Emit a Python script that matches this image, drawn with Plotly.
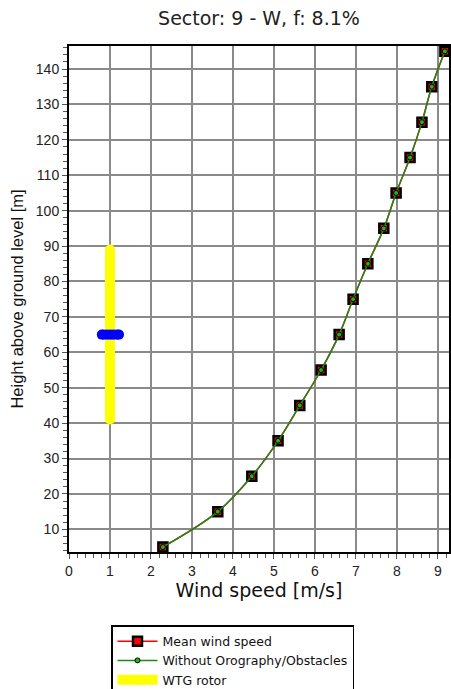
import plotly.graph_objects as go

heights = [5, 15, 25, 35, 45, 55, 65, 75, 85, 95, 105, 115, 125, 135, 145]
mean_ws = [2.29, 3.63, 4.46, 5.10, 5.63, 6.15, 6.59, 6.93, 7.29, 7.68, 7.98, 8.32, 8.61, 8.85, 9.17]
no_oro_ws = [2.29, 3.63, 4.46, 5.10, 5.63, 6.15, 6.59, 6.93, 7.29, 7.68, 7.98, 8.32, 8.61, 8.85, 9.17]
rotor_x = [1.0, 1.0]
rotor_y = [41, 89]
hub_x = [0.8, 1.22]
hub_y = [65, 65]

font = "Liberation Sans, Arial, sans-serif"
wide = "DejaVu Sans, sans-serif"

fig = go.Figure()
fig.add_trace(go.Scatter(x=mean_ws, y=heights, mode="lines+markers", name="Mean wind speed",
                         line=dict(color="red", width=1.5, shape="spline"),
                         marker=dict(symbol="square", size=9, color="red", line=dict(color="black", width=2.5))))
fig.add_trace(go.Scatter(x=no_oro_ws, y=heights, mode="lines+markers", name="Without Orography/Obstacles",
                         line=dict(color="#1a8a1a", width=1.5, shape="spline"),
                         marker=dict(symbol="circle", size=5, color="#11bb11", line=dict(color="black", width=1))))
fig.add_trace(go.Scatter(x=rotor_x, y=rotor_y, mode="lines+markers", name="WTG rotor",
                         line=dict(color="#ffff00", width=10),
                         marker=dict(symbol="circle", size=10, color="#ffff00")))
fig.add_trace(go.Scatter(x=hub_x, y=hub_y, mode="lines+markers", showlegend=False,
                         line=dict(color="#0000ff", width=10),
                         marker=dict(symbol="circle", size=10, color="#0000ff")))

axis_common = dict(showgrid=True, gridcolor="#8a8a8a", gridwidth=2, showline=True, linecolor="black",
                   linewidth=2, mirror=True, ticks="outside", ticklen=5, tickcolor="#555555",
                   tickfont=dict(family=font, size=14, color="#222"), zeroline=False, automargin=False)

fig.update_layout(
    width=451, height=689,
    paper_bgcolor="white", plot_bgcolor="white",
    margin=dict(l=69, r=2, t=46, b=137, autoexpand=False),
    title=dict(text="Sector: 9 - W, f: 8.1%", x=0.5, xanchor="center", xref="paper",
               y=1 - 18 / 689, yanchor="middle", yref="container",
               font=dict(family=wide, size=19, color="#222")),
    xaxis=dict(range=[0, 9.27], dtick=1, tick0=0,
               title=dict(text="Wind speed [m/s]", font=dict(family=wide, size=19, color="#111"), standoff=6),
               minor=dict(ticks="outside", dtick=0.2, ticklen=4, tickcolor="#555555", showgrid=False),
               **axis_common),
    yaxis=dict(range=[3.6, 146.5], dtick=10, tick0=0,
               title=dict(text="Height above ground level [m]", font=dict(family=font, size=16.5, color="#111"), standoff=8),
               minor=dict(ticks="outside", dtick=2, ticklen=4, tickcolor="#555555", showgrid=False),
               **axis_common),
    legend=dict(x=(111 - 69) / 380, y=-(625 - 552) / 506, xanchor="left", yanchor="top",
                bordercolor="black", borderwidth=1.5,
                font=dict(family=wide, size=12.5, color="#111"), bgcolor="white",
                tracegroupgap=0, itemwidth=40),
)

fig.write_html("out.html", config={"displayModeBar": False})
with open("out.html", "r", encoding="utf-8") as f:
    html = f.read()
html = html.replace("<head>", "<head><style>html,body{margin:0;padding:0;overflow:hidden;}</style>", 1)
with open("out.html", "w", encoding="utf-8") as f:
    f.write(html)
